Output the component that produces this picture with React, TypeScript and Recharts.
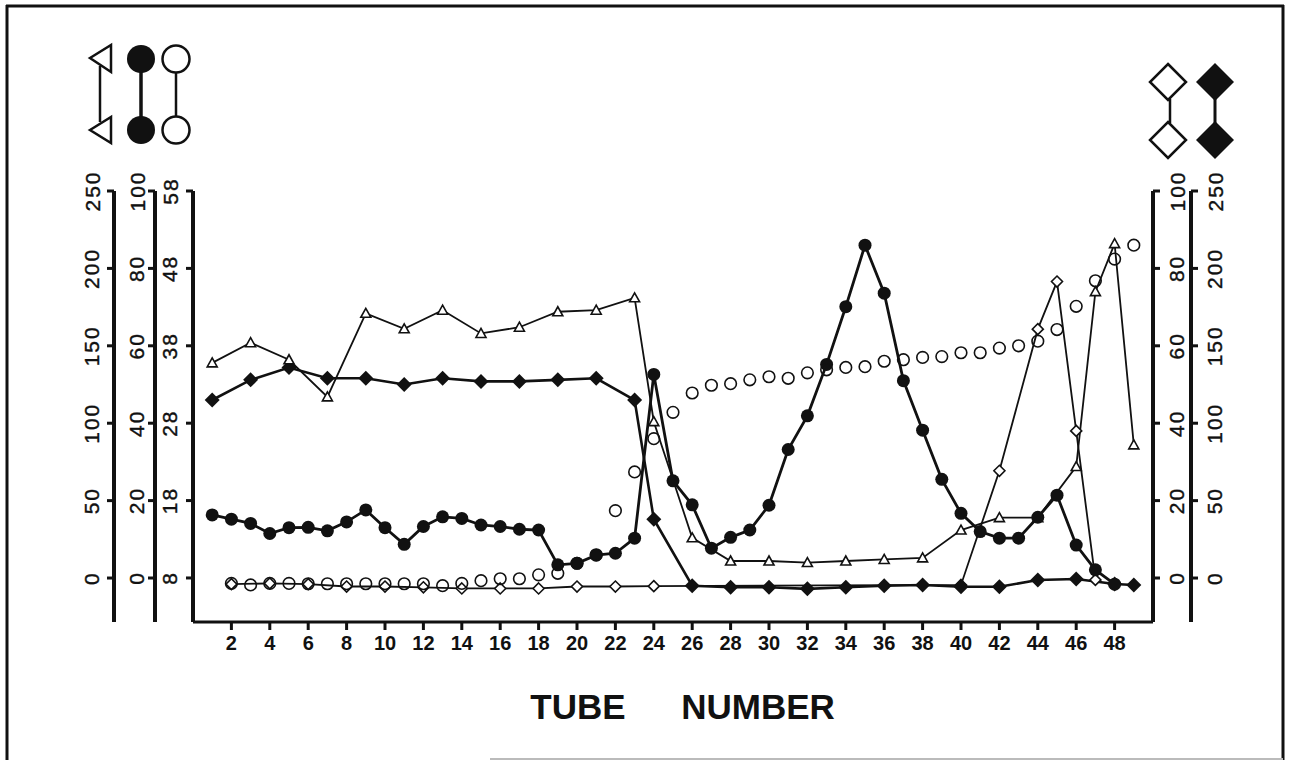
import React from "react";
import { Line, LineChart, XAxis, YAxis } from "recharts";

// tubes and readings, one list per series
const tubeTicks = [2, 4, 6, 8, 10, 12, 14, 16, 18, 20, 22, 24, 26, 28, 30, 32, 34, 36, 38, 40, 42, 44, 46, 48];

// open triangles, outer left axis (0-250)
const triTubes = [1, 3, 5, 7, 9, 11, 13, 15, 17, 19, 21, 23, 24, 26, 28, 30, 32, 34, 36, 38, 40, 42, 44, 46, 47, 48, 49];
const triValues = [139, 152, 141, 117, 171, 161, 173, 158, 162, 172, 173, 181, 101, 26, 11, 11, 10, 11, 12, 13, 31, 39, 39, 72, 185, 216, 86];

// filled circles, middle left axis (0-100)
const fcTubes = [1, 2, 3, 4, 5, 6, 7, 8, 9, 10, 11, 12, 13, 14, 15, 16, 17, 18, 19, 20, 21, 22, 23, 24, 25, 26, 27, 28, 29, 30, 31, 32, 33, 34, 35, 36, 37, 38, 39, 40, 41, 42, 43, 44, 45, 46, 47, 48];
const fcValues = [16.3, 15.2, 14.1, 11.5, 13.0, 13.1, 12.2, 14.5, 17.6, 13.0, 8.7, 13.3, 15.8, 15.4, 13.7, 13.3, 12.6, 12.4, 3.4, 3.8, 5.9, 6.4, 10.3, 52.6, 25.1, 18.9, 7.7, 10.5, 12.4, 18.8, 33.2, 41.9, 55.2, 70.1, 86.0, 73.6, 51.0, 38.2, 25.5, 16.7, 12.0, 10.3, 10.3, 15.7, 21.4, 8.5, 2.1, -1.6];

// open circles, inner left axis (8-58)
const ocTubes = [2, 3, 4, 5, 6, 7, 8, 9, 10, 11, 12, 13, 14, 15, 16, 17, 18, 19, 20, 21, 22, 23, 24, 25, 26, 27, 28, 29, 30, 31, 32, 33, 34, 35, 36, 37, 38, 39, 40, 41, 42, 43, 44, 45, 46, 47, 48, 49];
const ocValues = [7.3, 7.1, 7.3, 7.3, 7.25, 7.25, 7.25, 7.25, 7.25, 7.25, 7.25, 7.0, 7.3, 7.65, 7.9, 7.9, 8.4, 8.6, 9.9, 11.0, 16.7, 21.7, 26.0, 29.4, 31.9, 32.9, 33.1, 33.6, 34.0, 33.8, 34.5, 34.9, 35.2, 35.3, 36.0, 36.2, 36.5, 36.6, 37.1, 37.1, 37.7, 38.0, 38.6, 40.1, 43.1, 46.4, 49.2, 51.0];

// open diamonds, inner right axis (0-100)
const odTubes = [2, 4, 6, 8, 10, 12, 14, 16, 18, 20, 22, 24, 40, 42, 44, 45, 46, 47];
const odValues = [-1.6, -1.4, -1.6, -2.2, -2.2, -2.4, -2.7, -2.7, -2.7, -2.2, -2.2, -2.1, -1.8, 27.7, 64.3, 76.6, 38.0, -0.5];

// filled diamonds, outer right axis (0-250)
const fdTubes = [1, 3, 5, 7, 9, 11, 13, 15, 17, 19, 21, 23, 24, 26, 28, 30, 32, 34, 36, 38, 40, 42, 44, 46, 48, 49];
const fdValues = [115, 128, 136, 129, 129, 125, 129, 127, 127, 128, 129, 115, 38, -5, -6, -6, -7, -6, -5, -4.5, -5.6, -5.6, -1.3, -0.6, -3.9, -4.5];

const ticks250 = [0, 50, 100, 150, 200, 250];
const ticks100 = [0, 20, 40, 60, 80, 100];
const ticks58 = [8, 18, 28, 38, 48, 58];

const FONT = "'Liberation Sans', Arial, sans-serif";

function pick(tubes: number[], values: number[], t: number) {
  const i = tubes.indexOf(t);
  return i < 0 ? null : values[i];
}

const allTubes = Array.from(
  new Set([...triTubes, ...fcTubes, ...ocTubes, ...odTubes, ...fdTubes]),
).sort((a, b) => a - b);

const chartData = allTubes.map((t) => ({
  t,
  tri: pick(triTubes, triValues, t),
  fc: pick(fcTubes, fcValues, t),
  oc: pick(ocTubes, ocValues, t),
  od: pick(odTubes, odValues, t),
  fd: pick(fdTubes, fdValues, t),
}));

function RotTick(props: any) {
  const { x, y, payload, shift } = props;
  const cx = x + shift;
  return (
    <text
      x={cx}
      y={y}
      transform={`rotate(-90, ${cx}, ${y})`}
      textAnchor="middle"
      dominantBaseline="central"
      fontFamily={FONT}
      fontSize={21}
      letterSpacing={2}
      stroke="#111"
      strokeWidth={0.4}
      fill="#111"
    >
      {payload.value}
    </text>
  );
}

function makeDot(kind: string) {
  return (props: any) => {
    const { cx, cy, value, index } = props;
    const key = `${kind}-${index}`;
    if (value == null || cx == null || cy == null) return <g key={key} />;
    if (kind === "tri") {
      return (
        <path
          key={key}
          d={`M${cx},${cy - 5} L${cx + 5},${cy + 4} L${cx - 5},${cy + 4} Z`}
          fill="#fff"
          stroke="#111"
          strokeWidth={1.6}
        />
      );
    }
    if (kind === "fc") return <circle key={key} cx={cx} cy={cy} r={6.5} fill="#111" />;
    if (kind === "oc")
      return <circle key={key} cx={cx} cy={cy} r={5.8} fill="none" stroke="#111" strokeWidth={1.6} />;
    if (kind === "od")
      return (
        <path
          key={key}
          d={`M${cx},${cy - 5.5} L${cx + 5.5},${cy} L${cx},${cy + 5.5} L${cx - 5.5},${cy} Z`}
          fill="#fff"
          stroke="#111"
          strokeWidth={1.6}
        />
      );
    return (
      <path
        key={key}
        d={`M${cx},${cy - 7.5} L${cx + 7.5},${cy} L${cx},${cy + 7.5} L${cx - 7.5},${cy} Z`}
        fill="#111"
      />
    );
  };
}

const axisLine = { stroke: "#111", strokeWidth: 4 };
const tickLine = { stroke: "#111", strokeWidth: 3 };

// y axis ids sort alphabetically: "a" sits next to the plot, "c" is outermost
export default function App() {
  return (
    <div style={{ position: "absolute", left: 0, top: 0, width: 1291, height: 765, background: "#fff" }}>
      <LineChart
        width={1291}
        height={765}
        data={chartData}
        margin={{ top: 191, right: 40, bottom: 103, left: 60 }}
      >
        <XAxis
          dataKey="t"
          type="number"
          domain={[0, 50]}
          ticks={tubeTicks}
          height={40}
          tickSize={8}
          tickMargin={6}
          axisLine={{ stroke: "#111", strokeWidth: 3 }}
          tickLine={tickLine}
          tick={{ fill: "#111", fontSize: 20, fontWeight: 700, fontFamily: FONT }}
          interval={0}
        />
        <YAxis
          yAxisId="a_oc"
          orientation="left"
          width={38}
          domain={[2.31, 58]}
          ticks={ticks58}
          allowDataOverflow
          tickSize={7}
          tickMargin={0}
          axisLine={axisLine}
          tickLine={tickLine}
          tick={(p: any) => <RotTick {...p} shift={-16} />}
        />
        <YAxis
          yAxisId="b_fc"
          orientation="left"
          width={41}
          domain={[-11.37, 100]}
          ticks={ticks100}
          allowDataOverflow
          tickSize={7}
          tickMargin={0}
          axisLine={axisLine}
          tickLine={tickLine}
          tick={(p: any) => <RotTick {...p} shift={-11} />}
        />
        <YAxis
          yAxisId="c_tri"
          orientation="left"
          width={54}
          domain={[-28.4, 250]}
          ticks={ticks250}
          allowDataOverflow
          tickSize={7}
          tickMargin={0}
          axisLine={axisLine}
          tickLine={tickLine}
          tick={(p: any) => <RotTick {...p} shift={-15} />}
        />
        <YAxis
          yAxisId="a_od"
          orientation="right"
          width={38}
          domain={[-11.37, 100]}
          ticks={ticks100}
          allowDataOverflow
          tickSize={7}
          tickMargin={0}
          axisLine={axisLine}
          tickLine={tickLine}
          tick={(p: any) => <RotTick {...p} shift={17} />}
        />
        <YAxis
          yAxisId="b_fd"
          orientation="right"
          width={60}
          domain={[-28.4, 250]}
          ticks={ticks250}
          allowDataOverflow
          tickSize={7}
          tickMargin={0}
          axisLine={axisLine}
          tickLine={tickLine}
          tick={(p: any) => <RotTick {...p} shift={17} />}
        />
        <Line
          yAxisId="a_od"
          dataKey="od"
          type="linear"
          stroke="#111"
          strokeWidth={1.8}
          connectNulls
          dot={makeDot("od")}
          activeDot={false}
          isAnimationActive={false}
        />
        <Line
          yAxisId="b_fd"
          dataKey="fd"
          type="linear"
          stroke="#111"
          strokeWidth={2.6}
          connectNulls
          dot={makeDot("fd")}
          activeDot={false}
          isAnimationActive={false}
        />
        <Line
          yAxisId="c_tri"
          dataKey="tri"
          type="linear"
          stroke="#111"
          strokeWidth={1.8}
          connectNulls
          dot={makeDot("tri")}
          activeDot={false}
          isAnimationActive={false}
        />
        <Line
          yAxisId="b_fc"
          dataKey="fc"
          type="linear"
          stroke="#111"
          strokeWidth={2.8}
          connectNulls
          dot={makeDot("fc")}
          activeDot={false}
          isAnimationActive={false}
        />
        <Line
          yAxisId="a_oc"
          dataKey="oc"
          type="linear"
          stroke="none"
          strokeWidth={0}
          connectNulls
          dot={makeDot("oc")}
          activeDot={false}
          isAnimationActive={false}
        />
      </LineChart>
      <svg
        width={1291}
        height={765}
        style={{ position: "absolute", left: 0, top: 0, pointerEvents: "none" }}
      >
        {/* frame */}
        <line x1={6} y1={6} x2={1284} y2={6} stroke="#111" strokeWidth={3} />
        <line x1={7} y1={5} x2={7} y2={760} stroke="#111" strokeWidth={3} />
        <line x1={1283} y1={5} x2={1283} y2={760} stroke="#111" strokeWidth={3} />
        <line x1={490} y1={759} x2={1283} y2={759} stroke="#bbb" strokeWidth={2} />

        {/* left key */}
        <line x1={100} y1={66} x2={100} y2={122} stroke="#111" strokeWidth={2.5} />
        <path d="M90,58 L111,45 L111,72 Z" fill="#fff" stroke="#111" strokeWidth={2.5} />
        <path d="M90,130 L111,117 L111,143 Z" fill="#fff" stroke="#111" strokeWidth={2.5} />
        <line x1={141} y1={60} x2={141} y2={130} stroke="#111" strokeWidth={3.5} />
        <circle cx={141} cy={59} r={14} fill="#111" />
        <circle cx={141} cy={130} r={14} fill="#111" />
        <line x1={176} y1={73} x2={176} y2={117} stroke="#111" strokeWidth={2.5} />
        <circle cx={176} cy={59} r={13.5} fill="#fff" stroke="#111" strokeWidth={2.5} />
        <circle cx={176} cy={130} r={13.5} fill="#fff" stroke="#111" strokeWidth={2.5} />

        {/* right key */}
        <line x1={1170} y1={99} x2={1170} y2={123} stroke="#111" strokeWidth={2.5} />
        <path d="M1168,64 L1186,82 L1168,100 L1150,82 Z" fill="#fff" stroke="#111" strokeWidth={2.5} />
        <path d="M1168,122 L1186,140 L1168,158 L1150,140 Z" fill="#fff" stroke="#111" strokeWidth={2.5} />
        <line x1={1215} y1={82} x2={1215} y2={140} stroke="#111" strokeWidth={3} />
        <path d="M1215,63 L1234,82 L1215,101 L1196,82 Z" fill="#111" />
        <path d="M1215,121 L1234,140 L1215,159 L1196,140 Z" fill="#111" />

        {/* axis title */}
        <text x={578} y={719} textAnchor="middle" fontFamily={FONT} fontWeight={700} fontSize={35} fill="#111">
          TUBE
        </text>
        <text x={758} y={719} textAnchor="middle" fontFamily={FONT} fontWeight={700} fontSize={35} fill="#111">
          NUMBER
        </text>
      </svg>
    </div>
  );
}
